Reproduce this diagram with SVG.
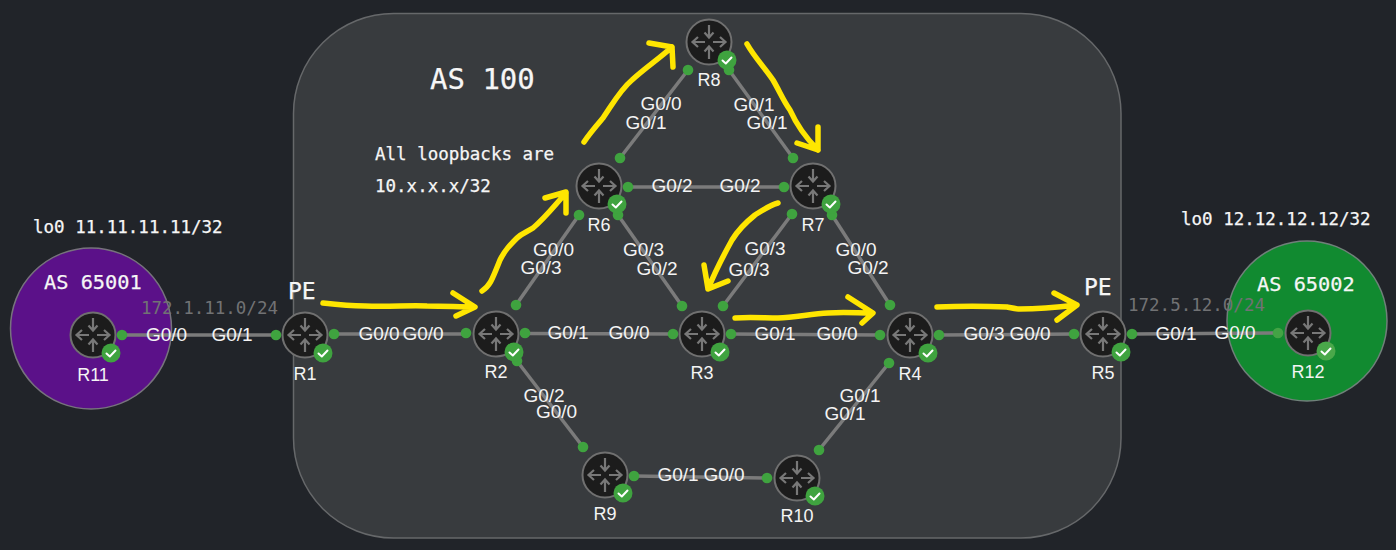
<svg xmlns="http://www.w3.org/2000/svg" width="1396" height="550" viewBox="0 0 1396 550">
<style>
.lnk{stroke:#7b7b7b;stroke-width:3.5;fill:none}
.dot{fill:#3fa33f}
.lbl{font-family:"Liberation Sans",Arial,sans-serif;font-size:19px;fill:#f4f4f4;text-anchor:middle}
.name{font-family:"Liberation Sans",Arial,sans-serif;font-size:18px;fill:#f4f4f4;text-anchor:middle}
.mono{font-family:"DejaVu Sans Mono",monospace;fill:#f6f6f6;stroke:#f6f6f6;stroke-width:.25}
.net{font-family:"DejaVu Sans Mono",monospace;font-size:17.5px;fill:#717274}
.y{stroke:#ffe600;stroke-width:5.500;fill:none;stroke-linecap:round;stroke-linejoin:round}
</style>
<defs>
<g id="router">
<circle r="22.500" fill="#1c1c1c" stroke="#707070" stroke-width="2"/>
<g stroke="#787878" stroke-width="2.200" fill="none">
<path d="M0-17V-5M-4.500-9.500L0-4.500L4.500-9.500"/>
<path d="M0 17V5M-4.500 9.500L0 4.500L4.500 9.500"/>
<path d="M-4 0H-16M-11-5L-16.500 0L-11 5"/>
<path d="M4 0H16M11-5L16.500 0L11 5"/>
</g>
<circle cx="18" cy="18" r="9.500" fill="#3fa33f"/>
<path d="M13.500 18.500L16.800 21.500L22.500 15.500" stroke="#fff" stroke-width="2" fill="none" stroke-linecap="round" stroke-linejoin="round"/>
</g>
</defs>
<rect width="1396" height="550" fill="#212429"/>
<g id="areas">
<rect id="as100" x="293.500" y="13.500" width="827.500" height="524.500" rx="100" fill="#383b3e" stroke="#66686a" stroke-width="1.500"/>
<circle id="as65001" cx="91" cy="328.500" r="80.500" fill="#5b1189" stroke="#77737d" stroke-width="1.500"/>
<circle id="as65002" cx="1307" cy="321" r="80" fill="#118a30" stroke="#70807a" stroke-width="1.500"/>
</g>
<g id="connectors">
<path class="lnk" d="M122 335H276"/>
<path class="lnk" d="M334 334H466"/>
<path class="lnk" d="M525 333.500L673 334"/>
<path class="lnk" d="M731 334L880 335"/>
<path class="lnk" d="M939 335L1074 334"/>
<path class="lnk" d="M1132 334L1278 333"/>
<path class="lnk" d="M628 187H784"/>
<path class="lnk" d="M634 476L767 478"/>
<path class="lnk" d="M516 305L579 215"/>
<path class="lnk" d="M618 215L682 306"/>
<path class="lnk" d="M723 306L792 214"/>
<path class="lnk" d="M832 215L890 305"/>
<path class="lnk" d="M620 158L688 70"/>
<path class="lnk" d="M729 70L793 158"/>
<path class="lnk" d="M517 361L583 447"/>
<path class="lnk" d="M819 450L889 363"/>
<g class="dots">
<circle class="dot" cx="122" cy="335" r="5.300"/><circle class="dot" cx="276" cy="335" r="5.300"/>
<circle class="dot" cx="334" cy="334" r="5.300"/><circle class="dot" cx="466" cy="333" r="5.300"/>
<circle class="dot" cx="525" cy="333" r="5.300"/><circle class="dot" cx="673" cy="334" r="5.300"/>
<circle class="dot" cx="731" cy="334" r="5.300"/><circle class="dot" cx="880" cy="335" r="5.300"/>
<circle class="dot" cx="939" cy="335" r="5.300"/><circle class="dot" cx="1074" cy="334" r="5.300"/>
<circle class="dot" cx="1132" cy="334" r="5.300"/><circle cx="1278" cy="333" r="5.300" fill="#43a345"/>
<circle class="dot" cx="628" cy="187" r="5.300"/><circle class="dot" cx="784" cy="187" r="5.300"/>
<circle class="dot" cx="634" cy="476" r="5.300"/><circle class="dot" cx="767" cy="478" r="5.300"/>
<circle class="dot" cx="516" cy="305" r="5.300"/><circle class="dot" cx="579" cy="215" r="5.300"/>
<circle class="dot" cx="618" cy="215" r="5.300"/><circle class="dot" cx="682" cy="306" r="5.300"/>
<circle class="dot" cx="723" cy="306" r="5.300"/><circle class="dot" cx="792" cy="214" r="5.300"/>
<circle class="dot" cx="832" cy="215" r="5.300"/><circle class="dot" cx="890" cy="305" r="5.300"/>
<circle class="dot" cx="620" cy="158" r="5.300"/><circle class="dot" cx="688" cy="70" r="5.300"/>
<circle class="dot" cx="729" cy="70" r="5.300"/><circle class="dot" cx="793" cy="158" r="5.300"/>
<circle class="dot" cx="517" cy="361" r="5.300"/><circle class="dot" cx="583" cy="447" r="5.300"/>
<circle class="dot" cx="819" cy="450" r="5.300"/><circle class="dot" cx="889" cy="363" r="5.300"/>
</g>
<g class="labels">
<text class="lbl" x="166.500" y="341">G0/0</text><text class="lbl" x="232" y="341">G0/1</text>
<text class="lbl" x="379" y="340">G0/0</text><text class="lbl" x="423" y="340">G0/0</text>
<text class="lbl" x="568" y="339">G0/1</text><text class="lbl" x="629" y="339">G0/0</text>
<text class="lbl" x="775" y="340">G0/1</text><text class="lbl" x="837" y="340">G0/0</text>
<text class="lbl" x="984" y="340">G0/3</text><text class="lbl" x="1030" y="340">G0/0</text>
<text class="lbl" x="1176" y="340">G0/1</text><text class="lbl" x="1235" y="339">G0/0</text>
<text class="lbl" x="672" y="192">G0/2</text><text class="lbl" x="740" y="192">G0/2</text>
<text class="lbl" x="678" y="481">G0/1</text><text class="lbl" x="724" y="481">G0/0</text>
<text class="lbl" x="661" y="110">G0/0</text><text class="lbl" x="646" y="129">G0/1</text>
<text class="lbl" x="754" y="111">G0/1</text><text class="lbl" x="767" y="129">G0/1</text>
<text class="lbl" x="553.500" y="256">G0/0</text><text class="lbl" x="541" y="274">G0/3</text>
<text class="lbl" x="643.500" y="256">G0/3</text><text class="lbl" x="657" y="275">G0/2</text>
<text class="lbl" x="765" y="255">G0/3</text><text class="lbl" x="749" y="276">G0/3</text>
<text class="lbl" x="856" y="256">G0/0</text><text class="lbl" x="868" y="274">G0/2</text>
<text class="lbl" x="544" y="402">G0/2</text><text class="lbl" x="556.500" y="418">G0/0</text>
<text class="lbl" x="860" y="402">G0/1</text><text class="lbl" x="845" y="420">G0/1</text>
</g>
</g>
<g id="R11"><use href="#router" x="93" y="335"/><text class="name" x="93" y="381">R11</text></g>
<g id="R1"><use href="#router" x="305" y="335"/><text class="name" x="305" y="380">R1</text></g>
<g id="R2"><use href="#router" x="496" y="334"/><text class="name" x="496" y="378">R2</text></g>
<g id="R3"><use href="#router" x="702" y="334"/><text class="name" x="702" y="379">R3</text></g>
<g id="R4"><use href="#router" x="910" y="335"/><text class="name" x="910" y="380">R4</text></g>
<g id="R5"><use href="#router" x="1103" y="334"/><text class="name" x="1103" y="379">R5</text></g>
<g id="R6"><use href="#router" x="599" y="186"/><text class="name" x="599" y="231">R6</text></g>
<g id="R7"><use href="#router" x="813" y="186"/><text class="name" x="813" y="231">R7</text></g>
<g id="R8"><use href="#router" x="709" y="42"/><text class="name" x="709" y="86">R8</text></g>
<g id="R9"><use href="#router" x="605" y="475"/><text class="name" x="605" y="520">R9</text></g>
<g id="R10"><use href="#router" x="797" y="478"/><text class="name" x="797" y="522">R10</text></g>
<g id="R12"><use href="#router" x="1308" y="333"/><circle cx="1326" cy="351" r="9.500" fill="#fff" opacity=".06"/><text class="name" x="1308" y="378">R12</text></g>
<g id="texts">
<text class="mono" x="430" y="89" font-size="29">AS 100</text>
<text class="mono" x="375" y="160" font-size="17.500">All loopbacks are</text>
<text class="mono" x="375" y="192" font-size="17.500">10.x.x.x/32</text>
<text class="mono" x="33" y="233" font-size="17.500">lo0 11.11.11.11/32</text>
<text class="mono" x="1181" y="225" font-size="17.500">lo0 12.12.12.12/32</text>
<text class="mono" x="44" y="289" font-size="20.300">AS 65001</text>
<text class="mono" x="1257" y="291" font-size="20.300">AS 65002</text>
<text class="mono" x="288" y="299" font-size="23">PE</text>
<text class="mono" x="1084" y="295" font-size="23">PE</text>
<text class="net" x="141" y="314">172.1.11.0/24</text>
<text class="net" x="1128" y="311">172.5.12.0/24</text>
</g>
<g id="annotations">
<path class="y" d="M323 303C340 305 350 306 365 306C390 307 410 305 427 306C445 306 460 307 474 307M453 293L475 307L456 316"/>
<path class="y" d="M482 291C490 286 492 280 500 260C505 250 510 245 517 238C522 233 527 232 533 228C545 218 555 205 566 193M545 198L566 192L566 213"/>
<path class="y" d="M584 142C590 133 597 125 603 118C612 105 620 90 632 80C645 68 660 58 672 47M649 43L672 47L673 67"/>
<path class="y" d="M747 44C755 58 765 68 773 80C780 92 783 100 790 110C798 128 808 140 818 150M818 127L818 150L797 143"/>
<path class="y" d="M778 203C770 205 763 210 755 215C745 223 738 230 732 240C722 258 715 272 708 289M704 265L708 289L728 281"/>
<path class="y" d="M735 318C750 317 765 318 778 318C795 317 812 314 828 313C843 312 858 313 872 313M848 297L873 313L862 323"/>
<path class="y" d="M937 307C960 306 985 306 1007 307C1012 308 1016 309 1020 309C1040 309 1060 307 1077 305M1054 293L1077 305L1057 320"/>
</g>
</svg>
